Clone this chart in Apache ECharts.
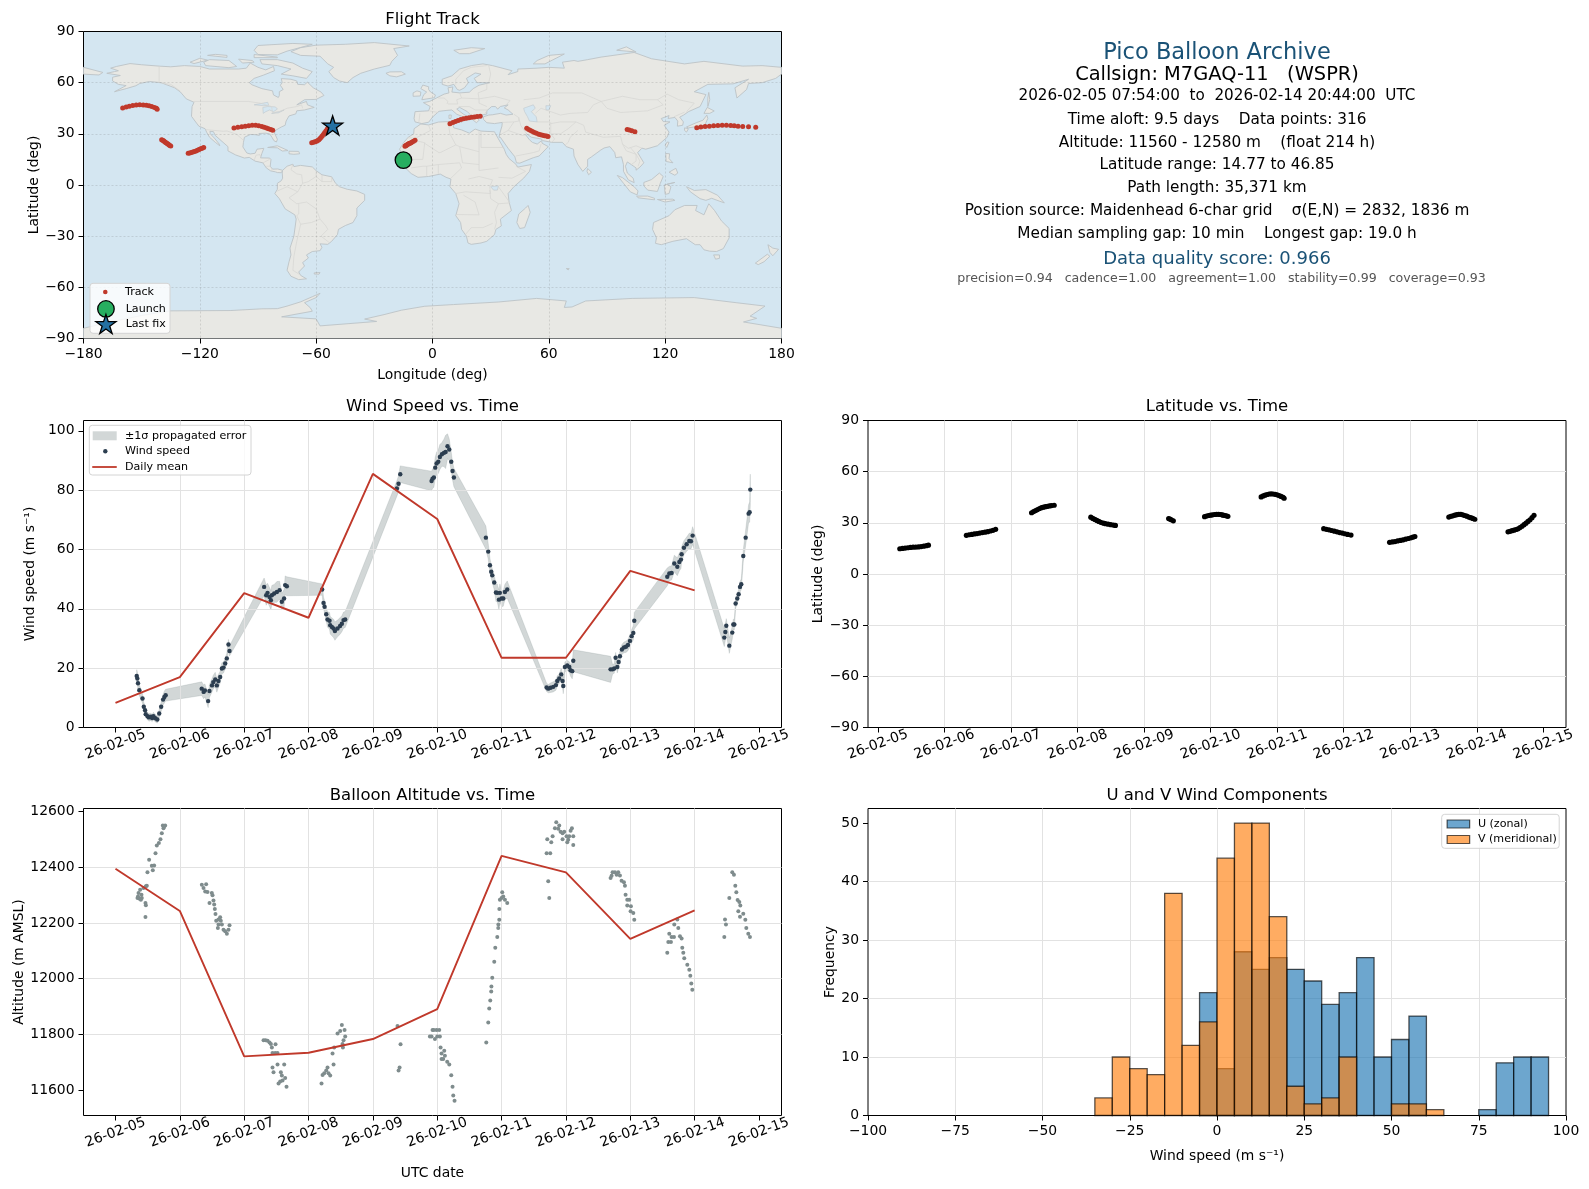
<!DOCTYPE html>
<html><head><meta charset="utf-8">
<style>html,body{margin:0;padding:0;background:#fff}#c{width:1589px;height:1189px}</style>
<script src="https://cdn.jsdelivr.net/npm/echarts@6/dist/echarts.min.js"></script>
</head><body><div id="c"></div>
<script>
// ---------- tick labels ----------
const dateLabels = ['26-02-05','26-02-06','26-02-07','26-02-08','26-02-09','26-02-10','26-02-11','26-02-12','26-02-13','26-02-14','26-02-15'];
const dayTicks = [0,1,2,3,4,5,6,7,8,9,10];

// ---------- track: [day since 02-05 00:00 UTC, longitude, latitude] ----------
const track = [
[0.33,-15.0,14.8],[0.37,-14.9,15.0],[0.41,-14.8,15.2],[0.45,-14.8,15.4],[0.49,-14.7,15.6],[0.53,-14.7,15.7],[0.57,-14.7,15.8],[0.61,-14.6,15.9],[0.65,-14.6,16.1],[0.69,-14.6,16.3],[0.73,-14.5,16.6],[0.76,-14.4,16.9],
[1.33,-14.2,22.7],[1.37,-13.9,23.0],[1.41,-13.6,23.2],[1.45,-13.3,23.5],[1.49,-12.9,23.7],[1.53,-12.5,24.0],[1.57,-12.1,24.3],[1.61,-11.6,24.5],[1.65,-11.1,24.8],[1.69,-10.5,25.2],[1.73,-9.8,25.6],[1.77,-9.0,26.2],
[2.31,9.0,35.9],[2.34,10.5,36.6],[2.37,11.8,37.2],[2.40,13.2,37.8],[2.43,14.6,38.4],[2.46,16,38.9],[2.49,17.4,39.2],[2.52,18.8,39.5],[2.55,20.2,39.7],[2.58,21.6,39.9],[2.61,23,40.1],[2.65,24.6,40.3],
[3.20,48.6,33.3],[3.23,49.6,32.6],[3.26,50.6,32],[3.29,51.6,31.4],[3.32,52.6,30.8],[3.35,53.6,30.3],[3.39,54.8,29.8],[3.42,55.8,29.5],[3.46,56.8,29.2],[3.50,57.8,28.9],[3.54,58.8,28.7],[3.57,59.6,28.5],
[4.37,100.4,32.5],[4.39,101.5,32.2],[4.41,102.8,31.8],[4.44,104.4,31.2],
[4.91,136.3,33.6],[4.94,138.4,34],[4.97,140.6,34.3],[5.0,142.8,34.5],[5.03,145,34.7],[5.06,147.2,34.9],[5.09,149.4,35],[5.12,151.6,35],[5.15,153.8,34.9],[5.17,155.6,34.7],[5.19,157.6,34.5],[5.215,160,34.3],[5.235,163,34.1],[5.26,166.7,33.8],
[5.76,-159.8,45.2],[5.79,-158,45.8],[5.82,-156.4,46.2],[5.85,-154.6,46.6],[5.88,-152.8,46.9],[5.91,-151,47],[5.94,-149.2,46.9],[5.97,-147.6,46.7],[6.0,-146.2,46.4],[6.03,-144.8,46],[6.06,-143.4,45.5],[6.09,-142.4,45],[6.105,-142,44.4],
[6.70,-139.7,26.6],[6.74,-139.2,26.2],[6.78,-138.7,25.9],[6.82,-138.3,25.5],[6.86,-137.8,25.1],[6.90,-137.4,24.7],[6.94,-136.9,24.3],[6.98,-136.4,24],[7.02,-136,23.6],[7.06,-135.5,23.2],[7.11,-135,22.8],
[7.69,-126,18.6],[7.73,-125.2,18.8],[7.77,-124.4,19],[7.81,-123.6,19.4],[7.85,-122.8,19.7],[7.89,-122,20],[7.93,-121.2,20.4],[7.97,-120.4,20.8],[8.01,-119.6,21.2],[8.04,-118.8,21.6],[8.07,-118,22],
[8.58,-102.4,33.4],[8.61,-100.4,33.8],[8.64,-98.4,34.1],[8.67,-96.6,34.5],[8.70,-94.8,34.8],[8.73,-93,35],[8.76,-91.2,35],[8.79,-89.6,34.7],[8.82,-88,34.3],[8.85,-86.8,33.9],[8.88,-85.6,33.4],[8.91,-84.6,33],[8.94,-83.4,32.6],[8.97,-82.4,32.1],
[9.47,-62.3,24.7],[9.50,-61.4,25],[9.53,-60.6,25.4],[9.56,-59.8,25.7],[9.59,-59.2,26.1],[9.62,-58.6,26.5],[9.65,-58,27.2],[9.68,-57.4,28],[9.71,-56.8,28.9],[9.74,-56.2,29.8],[9.77,-55.6,30.8],[9.80,-54.9,31.8],[9.83,-54.2,33],[9.86,-53.4,34.4]
];
const launchPoint = [-15, 14.6];
const lastFixPoint = [-51.5, 34.9];

// ---------- wind: [day, speed m/s, sigma] ----------
const windPoints = [
[0.33,17.4,2.1],[0.34,16.5,2.1],[0.35,14.9,2],[0.37,12.6,1.8],[0.42,9.8,1.6],[0.44,7.0,1.5],[0.46,5.8,1.4],[0.47,4.5,1.3],[0.50,3.8,1.2],[0.52,3.4,1.3],[0.55,3.6,1.2],[0.57,3.2,1.2],[0.59,3.8,1.3],[0.62,3.1,1.2],[0.65,2.7,1.2],[0.68,4.7,1.4],[0.71,7,1.6],[0.74,9.4,1.8],[0.76,10.3,2],[0.78,10.9,2],
[1.34,13.1,2.3],[1.37,12,2.3],[1.39,12.5,2.2],[1.44,8.9,2.2],[1.46,12.3,2.2],[1.50,14.2,2.2],[1.52,15.3,2.3],[1.55,16.2,2.4],[1.575,14.2,2.3],[1.60,15.7,2.2],[1.627,17,2],[1.653,19.9,1.9],[1.679,20.2,1.8],[1.705,21.6,1.8],[1.73,23.3,1.7],[1.756,28,1.7],[1.772,25.8,1.7],
[2.31,47.4,3],[2.342,44.6,3.4],[2.363,45.4,3.2],[2.394,44,3.2],[2.415,42.9,3.2],[2.43,44.6,3.3],[2.466,45.2,3],[2.508,45.7,3.5],[2.55,46.3,3],[2.585,42.4,2.8],[2.62,43.5,3],[2.637,48,3.1],[2.663,47.6,3.2],
[3.212,46.5,1.9],[3.233,42,2],[3.249,40.7,2.1],[3.275,38.2,2.4],[3.295,36.4,2.6],[3.326,36,2.8],[3.337,34.5,3],[3.363,33.9,3],[3.389,33.4,3.1],[3.41,32.5,3.1],[3.451,33.4,2.8],[3.49,34.2,2.8],[3.518,35,2.7],[3.544,36.2,2.7],[3.57,36.4,2.7],
[4.373,80.6,2.6],[4.399,82.2,2.7],[4.425,85.4,2.8],
[4.912,83.1,3.3],[4.927,83.9,3.3],[4.948,84.3,3.3],[4.969,87.6,3.6],[4.99,89,3.8],[5.016,89.6,4],[5.041,91.2,4.2],[5.073,92.1,4],[5.104,92.6,4.6],[5.13,92.9,5.6],[5.16,94.8,4.2],[5.187,93.7,3.6],[5.218,89.6,3.2],[5.238,86.5,3.1],[5.259,84.3,3.1],
[5.756,64,3.9],[5.793,59.3,2.6],[5.819,54.7,2.4],[5.839,52.5,2.3],[5.855,51.3,2.3],[5.886,48.9,2.5],[5.912,45.5,3],[5.933,45.4,3],[5.959,43.1,3.2],[5.974,45.4,3],[6.0,43.5,2.8],[6.026,43.5,2.6],[6.052,45.7,2.6],[6.088,46.5,2.9],
[6.7,13.5,1.4],[6.725,13.1,1.4],[6.762,13.4,1.6],[6.803,13.7,1.7],[6.845,14.3,1.7],[6.865,15.7,1.7],[6.896,16.5,1.6],[6.927,17.9,2],[6.948,15.7,2.4],[6.959,14,2.6],[6.984,20.4,1.7],[7.02,20.9,1.7],[7.052,20.4,1.8],[7.072,19.3,2],[7.098,19,2.6],[7.114,22.5,3.7],
[7.694,19.6,4.4],[7.725,19.6,1.6],[7.751,19.9,1.6],[7.772,23.5,1.8],[7.798,20.4,2],[7.819,22.1,2],[7.839,24,1.8],[7.87,26.3,1.7],[7.902,27,1.8],[7.933,27.2,1.9],[7.964,27.8,1.9],[7.995,29.2,2],[8.021,30.8,2.2],[8.047,31.9,2.4],[8.062,36,2.8],
[8.575,50.8,3],[8.606,51.9,2.4],[8.642,52.1,2.4],[8.684,55.3,2.8],[8.731,54.2,3],[8.762,55.8,3],[8.788,56.6,3],[8.798,58.4,2.6],[8.834,60.6,2.4],[8.876,61.8,2.4],[8.917,62.9,2.6],[8.943,62.8,2.6],[8.969,64.7,3],
[9.461,30.3,3],[9.477,32.2,2.8],[9.492,34.3,2.4],[9.539,27.6,2.6],[9.585,32,2.2],[9.601,34.7,1.8],[9.617,34.7,1.8],[9.637,41.8,1.6],[9.663,43.5,1.6],[9.684,44.9,1.6],[9.705,47.4,1.8],[9.725,48.3,1.8],[9.756,57.8,2],[9.793,64,2.6],[9.839,72.1,3],[9.855,72.6,3.4],[9.865,80.2,5.2]
];
const windDays = [0,1,2,3,4,5,6,7,8,9];
const windDaily = [8.3,17,45.3,37,85.5,70.3,23.5,23.5,52.8,46.2];

// ---------- altitude: [day, metres] ----------
const altPoints = [
[0.342,12289],[0.373,12287],[0.409,12289],[0.358,12307],[0.383,12319],[0.404,12301],[0.35,12295],[0.395,12283],[0.435,12325],[0.472,12331],[0.487,12333],[0.466,12271],[0.472,12263],[0.466,12221],[0.497,12382],[0.565,12405],[0.58,12389],[0.601,12406],[0.523,12426],[0.622,12450],[0.642,12477],[0.674,12486],[0.699,12500],[0.72,12521],[0.746,12539],[0.736,12549],[0.772,12549],[0.755,12545],
[1.342,12337],[1.368,12325],[1.409,12339],[1.394,12313],[1.43,12311],[1.497,12307],[1.508,12299],[1.461,12271],[1.523,12280],[1.534,12266],[1.544,12250],[1.554,12232],[1.565,12208],[1.601,12212],[1.627,12220],[1.637,12208],[1.601,12194],[1.591,12182],[1.653,12194],[1.679,12176],[1.705,12170],[1.731,12161],[1.756,12176],[1.772,12192],
[2.301,11780],[2.332,11780],[2.363,11778],[2.394,11772],[2.415,11766],[2.43,11754],[2.487,11765],[2.44,11734],[2.482,11734],[2.518,11734],[2.518,11693],[2.622,11693],[2.44,11682],[2.456,11665],[2.57,11665],[2.585,11653],[2.637,11644],[2.596,11635],[2.56,11632],[2.534,11625],[2.658,11613],
[3.202,11625],[3.218,11655],[3.244,11661],[3.275,11671],[3.295,11682],[3.311,11661],[3.337,11653],[3.389,11693],[3.373,11732],[3.399,11754],[3.534,11754],[3.528,11766],[3.57,11793],[3.544,11780],[3.451,11804],[3.492,11813],[3.518,11834],[3.56,11816],
[4.383,11831],[4.43,11765],[4.415,11682],[4.399,11671],
[4.886,11793],[4.927,11816],[4.948,11816],[4.99,11816],[5.031,11816],[4.912,11793],[4.964,11784],[5,11793],[5.041,11793],[5.052,11754],[5.109,11742],[5.067,11732],[5.119,11724],[5.093,11712],[5.067,11712],[5.155,11703],[5.187,11693],[5.218,11654],[5.238,11613],[5.249,11582],[5.269,11563],
[5.762,11772],[5.793,11843],[5.808,11893],[5.824,11922],[5.839,11954],[5.842,11972],[5.855,12004],[5.886,12061],[5.902,12111],[5.933,12150],[5.948,12182],[5.95,12194],[5.964,12211],[5.965,12250],[5.974,12283],[6,12289],[6.01,12310],[6.026,12295],[6.052,12283],[6.088,12271],
[6.7,12450],[6.756,12450],[6.725,12349],[6.741,12289],[6.71,12500],[6.772,12489],[6.793,12511],[6.829,12539],[6.85,12561],[6.896,12549],[6.881,12537],[6.917,12527],[6.948,12521],[6.974,12527],[6.948,12500],[7.01,12511],[7.052,12511],[7.021,12489],[7.073,12530],[7.093,12539],[7.114,12511],[7.114,12479],[7.036,12498],
[7.694,12361],[7.71,12369],[7.725,12382],[7.762,12382],[7.813,12382],[7.788,12373],[7.839,12370],[7.865,12351],[7.902,12346],[7.917,12333],[7.927,12301],[7.953,12283],[7.984,12283],[7.953,12262],[8.01,12260],[8.005,12242],[8.047,12236],[8.062,12211],
[8.575,12093],[8.591,12132],[8.632,12132],[8.606,12161],[8.642,12150],[8.679,12150],[8.684,12194],[8.731,12212],[8.746,12182],[8.772,12152],[8.798,12144],[8.808,12111],[8.824,12093],[8.839,12073],[8.886,12050],[8.917,12032],[8.933,12011],[8.948,11983],[8.964,11961],
[9.461,12150],[9.472,12212],[9.487,12194],[9.539,12289],[9.585,12382],[9.611,12373],[9.632,12333],[9.648,12310],[9.668,12282],[9.694,12275],[9.71,12262],[9.679,12242],[9.705,12222],[9.756,12233],[9.788,12211],[9.803,12182],[9.834,12161],[9.86,12150]
];
const altDaily = [12394,12243,11722,11735,11784,11891,12440,12381,12143,12245];

// ---------- histogram ----------
const histLeftEdges = [-35,-30,-25,-20,-15,-10,-5,0,5,10,15,20,25,30,35,40,45,50,55,60,65,70,75,80,85,90];
const histU = [0,0,0,0,0,0,21,8,28,25,27,25,23,19,21,27,10,13,17,0,0,0,1,9,10,10];
const histV = [3,10,8,7,38,12,16,44,50,50,34,5,2,3,10,0,0,2,2,1,0,0,0,0,0,0];

// ---------- header text ----------
const headerLines = [
 ['Pico Balloon Archive', 52.7, 22.5, '#1a5276', 1217],
 ['Callsign: M7GAQ-11   (WSPR)', 75, 19.4, '#000', 1217],
 ['2026-02-05 07:54:00  to  2026-02-14 20:44:00  UTC', 96.5, 15.2, '#000', 1217],
 ['Time aloft: 9.5 days    Data points: 316', 119.6, 15.3, '#000', 1217],
 ['Altitude: 11560 - 12580 m    (float 214 h)', 142.9, 15.3, '#000', 1217],
 ['Latitude range: 14.77 to 46.85', 165.2, 15.3, '#000', 1217],
 ['Path length: 35,371 km', 188.5, 15.3, '#000', 1217],
 ['Position source: Maidenhead 6-char grid    σ(E,N) = 2832, 1836 m', 210.8, 15.3, '#000', 1217],
 ['Median sampling gap: 10 min    Longest gap: 19.0 h', 234, 15.3, '#000', 1217],
 ['Data quality score: 0.966', 259.4, 18, '#1a5276', 1217],
 ['precision=0.94   cadence=1.00   agreement=1.00   stability=0.99   coverage=0.93', 278.5, 12.6, '#555', 1221.5]
];

// ---------- simplified coastlines [lon,lat] ----------
const landPolygons = [
[[-168,65.5],[-164,66.5],[-162,67],[-166,68.5],[-163,69.5],[-156,71.2],[-150,70.5],[-141,69.7],[-135,69.3],[-128,70],[-120,69.5],[-115,68],[-108,68],[-100,68],[-96,68.5],[-94,71.5],[-90,69],[-86,67.5],[-82,69.5],[-81.5,67],[-87,64.5],[-92,62.5],[-94.5,60],[-93,58.7],[-88,56.5],[-82.5,55.2],[-82,52.8],[-79.5,51.3],[-79,52.5],[-79,54.7],[-77,56],[-78.5,58.5],[-77.5,60],[-78,62.4],[-73,62],[-70,61],[-69.5,59],[-66,58.8],[-64.5,60.3],[-61.5,57],[-57.5,54.5],[-56,52.5],[-60,50.2],[-66,50],[-70,47],[-65,49],[-64.5,47],[-61,45.5],[-66,44],[-70,43.5],[-70.5,41.7],[-74,40.5],[-75.5,37.5],[-76,35],[-78,34],[-81,32],[-81.5,30.5],[-80,26.8],[-80.5,25.2],[-81.8,26],[-82.8,28],[-84,30],[-86,30.4],[-89.5,30.2],[-89.3,29.1],[-91.5,29.5],[-94,29.6],[-97,28],[-97.5,25],[-97.8,22.3],[-95.8,18.8],[-94,18.2],[-91.5,18.6],[-90.5,21],[-87,21.5],[-88,18.5],[-88.7,15.9],[-84,15.8],[-83.3,14.9],[-83.7,11],[-82.5,9.3],[-79.8,9.4],[-77.3,8.6],[-78,7.2],[-80,7.3],[-81,7.7],[-83.5,8.3],[-85.7,10],[-87.5,13],[-91.5,14],[-94.5,16.2],[-97,15.8],[-101.5,17.6],[-105.5,20],[-105.5,22.5],[-108,25],[-112,29],[-113,31.3],[-114.8,31.5],[-114.6,30],[-112.5,27.5],[-110,24],[-109.7,23],[-112,25],[-115,28],[-116.5,31],[-117.3,33],[-120.5,34.5],[-122.5,37.5],[-124.3,40.3],[-124,46],[-123,48.5],[-127,50.5],[-130,54.5],[-133,57],[-137,58.7],[-140,60],[-146,60.7],[-151,59.5],[-153,58.2],[-158,56.5],[-164,54.7],[-158,58.3],[-162,59],[-165,61],[-165,63.2],[-161,64.2]],
[[-80,73.5],[-72,71.5],[-67,68.5],[-62,66.5],[-65,62.5],[-72,64],[-78,65],[-73,68],[-80,70],[-88,71],[-89,73.5]],
[[-117,70],[-105,68.8],[-101,69.5],[-105,73],[-115,73.5],[-118,72]],
[[-125,72],[-120,74.3],[-116,73.2],[-123,71.2]],
[[-90,76.5],[-80,76.3],[-75,78.5],[-62,82.5],[-72,83],[-90,81.8],[-92,79]],
[[-92,76.5],[-80,75],[-80,74.6],[-92,74.7]],
[[-116,76],[-106,74.8],[-106,76],[-112,76.6]],
[[-100,73.8],[-93,73],[-92,72],[-98,71.5]],
[[-73,78.2],[-68,76],[-58,75.5],[-54,71],[-51,69],[-53.5,66.5],[-51,63],[-48,61],[-44,60],[-41,63],[-37,65.5],[-30,68],[-22,70.2],[-21,72.5],[-18,76],[-20,80],[-12,81.5],[-30,83.5],[-45,82.5],[-60,82],[-68,80.5]],
[[-24,65.5],[-22,64],[-18.5,63.4],[-14,65],[-16,66.4],[-22,66.3]],
[[-77.3,8.6],[-75,11],[-72,12.2],[-71.5,10.8],[-68,11.5],[-62,10.6],[-60,8.4],[-57,6],[-52,4.8],[-50,1],[-48,-1],[-44,-2.5],[-39,-3.5],[-35,-5.5],[-35,-9],[-39,-13.5],[-39,-18],[-41,-22],[-45,-23.8],[-48.5,-26],[-49,-29],[-52,-33],[-54,-34.8],[-58,-34.5],[-57,-36.5],[-58,-38.5],[-62,-39],[-65,-41],[-64,-42.8],[-67,-45.5],[-66,-47.5],[-69,-51],[-68,-53],[-65,-55],[-69,-55.5],[-73,-53.5],[-75,-50],[-74,-45],[-73,-41],[-73.5,-37],[-71.5,-30],[-70.3,-20],[-71,-17.5],[-76,-14],[-79,-8],[-81.3,-5],[-80,-2.5],[-80,1],[-78,2.5],[-77.3,4],[-77.5,7]],
[[-6,35.8],[-2,35.2],[3,36.9],[10,37.3],[11,33.5],[15,32.3],[19,30.4],[22,32.8],[25,31.6],[32,31.2],[32.5,30],[34,27],[35.5,24],[37,21],[38,18],[39.5,15.5],[43,12.2],[44,10.5],[51,12],[50,8],[47,4],[42,-1],[39,-5],[39.5,-10],[40.7,-15],[35,-20],[35.5,-24],[32.7,-26],[32,-29],[28,-33],[25,-34],[20,-34.8],[18.3,-34],[17.5,-30],[15,-26],[14.5,-22],[12,-18],[13.7,-11],[12,-5],[9,-1],[9.5,3.5],[7,4.5],[4,6.4],[-2,5],[-7.5,4.5],[-11,6.7],[-13.5,9.5],[-16.5,12.5],[-17.3,14.7],[-16,19],[-17,21],[-14.8,25],[-12.5,28],[-9.7,30],[-9.5,33]],
[[-9,37],[-9.5,39],[-9,43],[-2,43.5],[-1.2,46],[-4.7,48.3],[-1.5,49],[2,51],[6,53.3],[8.5,54],[8,57],[10.5,57.5],[10,54.5],[14,54],[19,54.4],[21,56.5],[24,58.5],[29.5,60],[23,60],[21.5,62.5],[25,65],[22,65.7],[17.5,62.5],[18.5,60],[16.5,57],[14,55.5],[12.8,56],[11,59],[8,58],[5,59],[5,62],[10,64],[14,68],[20,70],[26,71],[31,70],[41,67],[39,64.7],[44,66.5],[44,68],[54,68.5],[60,69],[68,68.5],[67,72],[73,73],[75,72.5],[80,73.5],[87,75],[104,77.7],[113,74],[130,71],[140,72.5],[160,69.7],[170,70],[180,69],[180,65],[177,62.5],[170,60],[163,59.5],[162,56],[157,51],[156,57],[163,62],[155,59.3],[142,59],[135,54.7],[141,53],[138,46],[132,43],[129.5,41],[127.5,39.8],[129.4,37],[129,35],[126.3,34.5],[126.5,37.5],[125,39.6],[121.5,39],[122,40.7],[118,39],[119,37.2],[122.5,37],[119.5,35],[122,31],[121,28],[116,23],[110,21],[108,21.6],[105.8,19],[109,13],[107,10.5],[105,8.7],[105,10],[102.5,12],[100.5,13.5],[99.5,11],[100.5,7],[103.5,4],[104,1.4],[101,3],[98.5,8],[98.5,12],[97.5,16.5],[94.5,16],[94,19],[91.5,22.5],[88.5,21.7],[86.8,20.5],[82,16.5],[80,15],[80,11],[77.5,8],[75,12],[73,17],[72.7,21],[69,22.5],[67,25],[61.5,25],[57,26],[56,27],[51,28],[48.5,30],[48,29.5],[50,26.5],[51.5,25],[54,24],[56.3,26],[56.5,24.5],[59.7,22.5],[55,17],[52,16],[45,12.8],[43.3,13],[42.5,16.5],[39,21.5],[35,28],[34.3,28],[34.9,31],[35.8,34.5],[36,36.7],[32,36],[28,36.5],[26.3,38.5],[26.3,40],[29,41],[31,41.2],[35,42],[38,41],[41.5,41.5],[39,44],[37,45.2],[39,47],[35,46],[33.6,44.5],[32.5,46],[30.5,46],[28,43.5],[28,41.6],[24,40.8],[23,40],[24,38],[22.7,36.5],[21,38],[19.3,41.5],[18,43],[14,45.5],[12.5,44.5],[16,41.5],[18.4,40],[16,38],[15.7,40],[12.5,41.5],[10,44],[7,43.7],[3.3,43.2],[0,39.8],[-2,36.8],[-5.5,36]],
[[-180,65],[-172,64.5],[-170,66],[-175,67.5],[-180,69]],
[[-5.5,50],[1,51.2],[1.5,52.8],[-1,54.5],[-2,56],[-2,57.6],[-5,58.6],[-6,56.5],[-3,54.5],[-4.5,53],[-5,51.7]],
[[-10,52],[-6.3,52.2],[-6,54.5],[-8,55.2],[-10,54]],
[[11,79],[20,80.5],[27,80],[19,77],[14,77]],
[[52,71],[58,71],[68,76.8],[60,76],[54,73]],
[[95,79],[105,78],[100,81]],
[[-85,22],[-80,23],[-74.5,20.2],[-77.5,19.9],[-80,21.8]],
[[-74,19.8],[-69,19.7],[-68.5,18.3],[-71.5,18],[-74,18.3]],
[[131,34],[136,36.5],[139.5,38],[141.5,41],[142,39],[140.5,35.2],[136.5,34.3],[132,33.5]],
[[140,42],[141.7,45.5],[145.3,43.4],[143,42]],
[[130,33.5],[132,33],[131,31],[130,32]],
[[142,46],[143,50],[142.5,54.3],[142,51]],
[[121,25.2],[122,25],[120.8,22],[120,23.3]],
[[120.3,18.5],[122.3,18.3],[122,15.5],[124,13],[120.5,13.8]],
[[122,7.5],[125.5,9.8],[126.5,7],[125,5.7]],
[[109,1.5],[113,3.2],[117,7],[119,5],[117.5,1],[116,-3.8],[111,-3],[109,-0.5]],
[[95.3,5.6],[98,4.3],[104,-1],[106,-3.5],[105.5,-5.8],[102,-4],[98.5,1]],
[[105.3,-6.5],[111,-6.5],[114.5,-7.8],[114.5,-8.7],[106,-7.5]],
[[119.5,0],[125,1.5],[121,0.5],[123,-1],[122,-5],[120,-5.5]],
[[131,-1],[135,-3.2],[141,-2.7],[147,-6],[150.5,-10.5],[144,-7.8],[141,-9],[138,-8],[133,-4]],
[[116,-8.5],[124,-8.3],[125,-9],[120,-10]],
[[114,-22],[122,-18],[125,-14.5],[130,-12],[136.5,-12],[135.7,-15],[140,-17.5],[142.5,-11],[145.5,-15],[149,-21],[153,-25.5],[153,-31],[150,-37.3],[146.5,-39],[143,-38.8],[140,-38],[138,-35],[135.5,-35],[131,-31.5],[124,-33],[118,-35],[115,-34.2],[115.5,-31],[113.5,-26]],
[[145,-41],[148,-41],[148,-43],[146,-43.5]],
[[173,-35],[175.5,-37],[178.5,-37.7],[175.5,-41.5],[174,-39.5]],
[[172.7,-40.6],[174,-41.8],[171,-45],[168,-46.7],[166.5,-45.8]],
[[49.3,-12],[50.4,-16],[47.5,-25],[45,-25.5],[43.5,-22],[44.5,-17],[48,-13.5]],
[[80,9.7],[82,7.5],[80.5,6],[79.7,8]],
[[8.5,41],[9.7,41],[9.5,39],[8.5,39]],
[[12.5,38],[15.5,38.2],[15,36.7]],
[[-61,-51.5],[-58,-51.3],[-58.5,-52.3],[-61,-52.2]],
[[69,-49],[70.5,-49],[70,-49.8]],
[[-180,-84],[-165,-80],[-150,-76.5],[-135.4,-73.8],[-104,-73.6],[-88,-72.6],[-80,-72.5],[-75,-71],[-68,-68.5],[-62,-65.5],[-58,-63.5],[-60,-66],[-66,-69],[-63,-72],[-62,-74],[-77.8,-77.3],[-60,-78.5],[-58,-82.6],[-40,-81],[-28.8,-80],[-35,-78.6],[-25,-76],[-16,-73.4],[-4,-71.1],[10.8,-70.1],[34,-68.6],[53.7,-66.5],[69,-68],[68,-71.8],[72,-71.5],[79,-68],[103,-66.5],[135,-66],[156.6,-69],[171.5,-71],[163.8,-76.9],[167.2,-78.2],[160.4,-80.3],[180,-84],[180,-90],[-180,-90]]
];
const lakePolygons = [
[[47,45],[52,47],[53,45],[51,43],[53.5,40],[54,37],[50,37.5],[49,40],[47.5,43]],
[[-92,47],[-85,48.5],[-84.5,46.7],[-87,46.5]],
[[-87.5,45.5],[-85,46],[-81,45.8],[-80,44.5],[-82,43],[-84,44],[-86,43],[-87.3,42]],
[[-83,42],[-79,43],[-76.5,44],[-79.5,42.3]],
[[58.5,46.5],[61,46.5],[60,44],[58.5,44]],
[[30,-1],[34,-0.5],[33.5,-3],[31.5,-3]]
];
const borderLines = [
[[-123,49],[-95,49],[-89,48],[-83,46],[-82.5,42.5],[-79,43],[-75,45],[-70,46],[-67.5,47],[-67,45]],
[[-141,69.7],[-141,60],[-135,59],[-130,55]],
[[-117,32.5],[-108,31.5],[-106,31.7],[-101,29.7],[-97.3,26]],
[[-92,14.5],[-91,17.5],[-89,17.8],[-88.5,16]],[[-87.5,13],[-84,15]],[[-85.7,11],[-83.7,11]],[[-83,8.5],[-82.7,9.5]],
[[-60,8],[-60,5],[-64,2],[-67,1],[-69.5,-4],[-74,-7.5],[-70,-11],[-65,-10],[-60,-14],[-58,-20],[-55,-24],[-54,-26],[-57.5,-30],[-53.5,-33.5]],
[[-70,-18],[-68,-23],[-70,-33],[-71.5,-42],[-72,-50],[-68.5,-52.5]],
[[-69,-11],[-69,-17],[-70,-18]],[[-68,-23],[-62.5,-22],[-58,-20]],[[-72,12],[-73,9],[-70,6.5],[-67.5,6],[-67,1]],
[[-80,-3.5],[-75,-1],[-69.5,-4]],[[-60,5],[-57,2],[-52,2],[-52,4.8]],[[-57,2],[-57,6]],
[[-2,35],[-1,32],[-8.7,27.5],[-13,27.7]],[[-8.7,27.5],[-8.7,26],[-4.8,25],[3.3,19],[4,19],[12,23.5],[14,22.5],[24,19.5],[24,31.5]],
[[25,31.5],[25,22],[37,22]],[[24,19.5],[24,8.5],[34,10]],[[3,12],[14,13],[15,10],[9.5,4]],[[-12,15],[-5,15],[-4,25]],[[14,22.5],[15.5,13],[24,12]],[[8,37],[9,30],[12,23.5]],
[[12,-5],[17,-4],[30,-5],[29.5,-1],[31,3],[24,5],[18.5,3.5]],[[12,-17.3],[24,-17.5],[22,-10],[16,-6]],[[34,-1],[40,-10.5],[34,-11],[30,-8],[29.5,-3]],[[34,4.5],[41,4],[48,8],[43,11]],[[34,-11],[32,-16],[33,-22],[32,-26]],[[17,-29],[20,-25],[26,-25],[31,-22.5]],[[-3,5],[-3,11],[3,12]],[[3,6.5],[3,12]],[[-11,10],[-5,11],[-3,11]],
[[7.5,47.5],[8,49],[6,51],[3,51]],[[-1.5,43.4],[3,42.5]],[[-7,37],[-6.5,42]],[[14,54],[15,51],[24,50.5],[23.5,54]],[[8,47.5],[13,47.5],[12.5,50],[15,51]],[[28,46],[24,48],[24,50.5],[32,52],[40,49.5],[38,47]],[[29,60],[30,65],[29,70]],[[12,59],[12,62],[16,67],[20,69],[28,70]],[[13.5,46],[19,46],[22,44],[28.5,44],[27,42]],[[23.5,54],[28,56],[28,59.5]],
[[47,50],[55,51],[62,54],[77,54],[83,51],[87,49]],[[53,42],[56,45],[66,41],[71,42],[80,42.5],[83,47],[87,49]],[[87,49],[98,52],[107,50],[116,50],[119,47],[111,43.5],[97,42.5],[90,45],[87,49]],[[116,50],[121,53.3],[127,50],[135,48],[131,43]],[[74,37],[78,35],[79,31],[88,28],[97,28.5],[98,24],[101,21.5],[105,23],[108,21.6]],[[75,32],[71,28],[70,25],[68.5,23.5]],[[44.5,39.5],[45.5,35],[48.5,30]],[[61,37],[61,30],[63,27],[61.5,25]],[[61,36],[66,37],[71,37],[74,37],[70,33],[66,30],[61,30]],[[39,32],[46.5,29],[48,29.5]],[[36,36.7],[42,37],[44.5,37.5],[44.5,39.5],[42,41.5]],[[43,17],[52,19],[55,20],[56,24]],[[39,32],[35,29.5]],[[42,37],[39,32]],[[98,24],[100,20],[105,18],[105,14],[102.5,12]],[[102,22],[105,18],[107,14],[106,11]],[[54,37],[60,37],[61,36]],[[124.5,40],[130,42.7]]
];

// ---------- layout & styles ----------
const FONT = 'DejaVu Sans';
const GRIDLINE = '#e2e2e2';
const plain = v => String(v).replace('-','−');
const Y_LABEL = {padding:[2,0,0,0]};
const grids = [
 {left:83.5, top:31.5, width:698, height:307},
 {left:83.5, top:420.5, width:698, height:307},
 {left:868, top:420.5, width:698, height:307},
 {left:83.5, top:808.5, width:698, height:307},
 {left:868, top:808.5, width:698, height:307}
].map((g,i)=>Object.assign(g,{show:true,borderColor:'#000',borderWidth:1,backgroundColor:i===0?'#d4e6f1':'#fff',containLabel:false}));

function axisBase(extra){
  const lab = extra.label||{}; 
  const a = Object.assign({
    type:'value', axisLine:{show:false,onZero:false}, z:2,
    axisTick:{show:true,length:5,lineStyle:{color:'#000',width:1}},
    nameTextStyle:{color:'#000',fontFamily:FONT,fontSize:13.9},
    nameLocation:'middle',
    splitLine:{show:true,showMinLine:false,showMaxLine:false,lineStyle:{color:GRIDLINE,width:1}}
  },extra);
  a.axisLabel = Object.assign({show:true,color:'#000',fontFamily:FONT,fontSize:13.9,margin:9,formatter:plain},lab);
  delete a.label;
  return a;
}
function ticksAxis(vals,opt){
  const a = axisBase(opt);
  a.axisTick = Object.assign({},a.axisTick,{customValues:vals});
  a.axisLabel = Object.assign({},a.axisLabel,{customValues:vals});
  return a;
}
function dayAxis(gridIndex,min,max,name){
  return ticksAxis(dayTicks,{gridIndex,min,max,name:name||'',nameGap:51,
    label:{rotate:20,align:'center',margin:17,formatter:v=>dateLabels[Math.round(v)]}});
}
const DASHED = {show:true,showMinLine:false,showMaxLine:false,lineStyle:{color:'rgba(110,110,110,0.26)',width:0.8,type:[2,2]}};
const xAxes = [
 axisBase({gridIndex:0,min:-180,max:180,interval:60,name:'Longitude (deg)',nameGap:30,splitLine:DASHED}),
 dayAxis(1,-0.497,10.35),
 dayAxis(2,-0.148,10.341),
 dayAxis(3,-0.497,10.35,'UTC date'),
 axisBase({gridIndex:4,min:-100,max:100,interval:25,name:'Wind speed (m s⁻¹)',nameGap:34})
];
const yAxes = [
 axisBase({gridIndex:0,min:-90,max:90,interval:30,name:'Latitude (deg)',nameGap:42,splitLine:DASHED,label:Y_LABEL}),
 ticksAxis([0,20,40,60,80,100],{gridIndex:1,min:0,max:103.5,name:'Wind speed (m s⁻¹)',nameGap:46,label:Y_LABEL}),
 axisBase({gridIndex:2,min:-90,max:90,interval:30,name:'Latitude (deg)',nameGap:41,label:Y_LABEL}),
 ticksAxis([11600,11800,12000,12200,12400,12600],{gridIndex:3,min:11510,max:12610,name:'Altitude (m AMSL)',nameGap:55,label:Y_LABEL}),
 ticksAxis([0,10,20,30,40,50],{gridIndex:4,min:0,max:52.5,name:'Frequency',nameGap:31,label:Y_LABEL})
];

function land(polys,fill,stroke,lw,name){
  return {type:'custom',name,xAxisIndex:0,yAxisIndex:0,z:1,silent:true,clip:true,
    data:polys.map((_,i)=>[i]),
    renderItem(p,api){
      const pts = polys[api.value(0)].map(c=>api.coord(c));
      return {type:'polygon',shape:{points:pts},style:{fill,stroke,lineWidth:lw}};
    }};
}
const borderSeries = {type:'custom',name:'borders',xAxisIndex:0,yAxisIndex:0,z:1,silent:true,clip:true,
  data:borderLines.map((_,i)=>[i]),
  renderItem(p,api){
    const pts = borderLines[api.value(0)].map(c=>api.coord(c));
    return {type:'polyline',shape:{points:pts},style:{fill:null,stroke:'#d6d6d2',lineWidth:0.7}};
  }};

function histSeries(name,counts,color,z){
  return {type:'custom',name,xAxisIndex:4,yAxisIndex:4,z,silent:true,
    data:histLeftEdges.map((e,i)=>[e,counts[i]]).filter(d=>d[1]>0),
    renderItem(p,api){
      const a = api.coord([api.value(0),api.value(1)]);
      const b = api.coord([api.value(0)+5,0]);
      return {type:'rect',shape:{x:a[0],y:a[1],width:b[0]-a[0],height:b[1]-a[1]},
        style:{fill:color,stroke:'rgba(0,0,0,0.65)',lineWidth:1.3}};
    }};
}

const windSorted = windPoints.slice().sort((a,b)=>a[0]-b[0]);
const bandSeries = {type:'custom',name:'±1σ propagated error',xAxisIndex:1,yAxisIndex:1,z:1,silent:true,
  data:[[0,0]],
  renderItem(p,api){
    const up = windSorted.map(w=>api.coord([w[0],w[1]+w[2]]));
    const lo = windSorted.map(w=>api.coord([w[0],w[1]-w[2]])).reverse();
    return {type:'polygon',shape:{points:up.concat(lo)},style:{fill:'rgba(127,140,141,0.35)',stroke:'rgba(127,140,141,0.25)',lineWidth:0.8}};
  }};
function dots(name,xi,data,color,size,z){
  return {type:'scatter',name,xAxisIndex:xi,yAxisIndex:xi,data,symbol:'circle',symbolSize:size,itemStyle:{color,opacity:1},z:z||3,silent:true};
}
function meanLine(name,xi,days,vals){
  return {type:'line',name,xAxisIndex:xi,yAxisIndex:xi,data:days.map((d,i)=>[d,vals[i]]),showSymbol:false,symbol:'none',
    lineStyle:{color:'#c0392b',width:1.9},itemStyle:{color:'#c0392b'},z:4,silent:true};
}
const STAR = 'path://M0,-100 L22.45,-30.9 L95.1,-30.9 L36.3,11.8 L58.8,80.9 L0,38.2 L-58.8,80.9 L-36.3,11.8 L-95.1,-30.9 L-22.45,-30.9 Z';

const series = [
 land(landPolygons,'#e8e8e4','#bcc3c6',0.9,'land'),
 land(lakePolygons,'#d4e6f1','#c0c8cc',0.6,'lakes'),
 borderSeries,
 dots('Track',0,track.map(t=>[t[1],t[2]]),'#c0392b',5,3),
 {type:'scatter',name:'Launch',xAxisIndex:0,yAxisIndex:0,data:[launchPoint],symbol:'circle',symbolSize:16.5,itemStyle:{color:'#27ae60',opacity:1,borderColor:'#000',borderWidth:1.3},z:5,silent:true},
 {type:'scatter',name:'Last fix',xAxisIndex:0,yAxisIndex:0,data:[lastFixPoint],symbol:STAR,symbolSize:[20,19],itemStyle:{color:'#2471a3',opacity:1,borderColor:'#000',borderWidth:1.3},z:6,silent:true},
 bandSeries,
 dots('Wind speed',1,windPoints.map(w=>[w[0],w[1]]),'#2c3e50',4.4),
 meanLine('Daily mean',1,windDays,windDaily),
 dots('Latitude',2,track.map(t=>[t[0],t[2]]),'#000',5.2),
 dots('Altitude',3,altPoints,'#7f8c8d',4),
 meanLine('Altitude daily mean',3,windDays,altDaily),
 histSeries('U (zonal)',histU,'rgba(31,119,180,0.65)',2),
 histSeries('V (meridional)',histV,'rgba(255,127,14,0.65)',3)
];

// one legend entry per line so each icon keeps its own size
function entry(name,cx,cy,w,h,icon,style,textX){
  const left = cx-w/2;
  const rowH = Math.max(h,13);
  return {show:true,z:10,selectedMode:false,orient:'vertical',left,top:cy-rowH/2,padding:0,itemWidth:w,itemHeight:h,
    data:[{name,icon,itemStyle:style}],
    textStyle:{color:'#000',fontFamily:FONT,fontSize:11.1,padding:[0,0,0,textX-(left+w+5)]}};
}
const legends = [
 entry('Track',105.3,293,4.6,4.6,'circle',{color:'#c0392b',opacity:1},125),
 entry('Launch',105.3,308.3,16.5,16.5,'circle',{color:'#27ae60',opacity:1,borderColor:'#000',borderWidth:1.3},125),
 entry('Last fix',105.3,323.3,20,19,STAR,{color:'#2471a3',opacity:1,borderColor:'#000',borderWidth:1.3},125),
 entry('±1σ propagated error',104.7,436.8,24,9,'rect',{color:'rgba(127,140,141,0.35)'},125),
 entry('Wind speed',105.3,452.3,4.4,4.4,'circle',{color:'#2c3e50',opacity:1},125),
 entry('Daily mean',104.5,468,24.5,1.8,'rect',{color:'#c0392b'},125),
 entry('U (zonal)',1457.8,825,22.5,8,'rect',{color:'rgba(31,119,180,0.65)',borderColor:'rgba(0,0,0,0.65)',borderWidth:1.2},1477.3),
 entry('V (meridional)',1457.8,840.5,22.5,8,'rect',{color:'rgba(255,127,14,0.65)',borderColor:'rgba(0,0,0,0.65)',borderWidth:1.2},1477.3)
];
const legendBoxes = [[90,283.3,80,50],[89.3,425.3,161.7,49.7],[1441.7,814.3,117.5,34]].map(b=>({
  type:'rect',z:9,silent:true,shape:{x:b[0],y:b[1],width:b[2],height:b[3],r:3},
  style:{fill:'rgba(255,255,255,0.8)',stroke:'#d4d4d4',lineWidth:1}}));
const headerTexts = headerLines.map(l=>({type:'text',z:9,silent:true,x:l[4],y:l[1],
  style:{text:l[0],fill:l[3],fontFamily:FONT,fontSize:l[2],textAlign:'center',textVerticalAlign:'middle'}}));

const titleOf = (text,cx,cy)=>({text,left:cx,top:cy-10,textAlign:'center',padding:0,
  textStyle:{fontFamily:FONT,fontSize:16.5,fontWeight:'normal',color:'#000'}});
const titles = [
 titleOf('Flight Track',432.5,21),
 titleOf('Wind Speed vs. Time',432.5,408.5),
 titleOf('Latitude vs. Time',1217,408.5),
 titleOf('Balloon Altitude vs. Time',432.5,797.5),
 titleOf('U and V Wind Components',1217,797.5)
];

const chart = echarts.init(document.getElementById('c'),null,{renderer:'canvas'});
chart.setOption({animation:false,backgroundColor:'#fff',textStyle:{fontFamily:FONT},
  title:titles,grid:grids,xAxis:xAxes,yAxis:yAxes,series,legend:legends,
  graphic:{elements:legendBoxes.concat(headerTexts)},tooltip:{show:false}});
</script></body></html>
